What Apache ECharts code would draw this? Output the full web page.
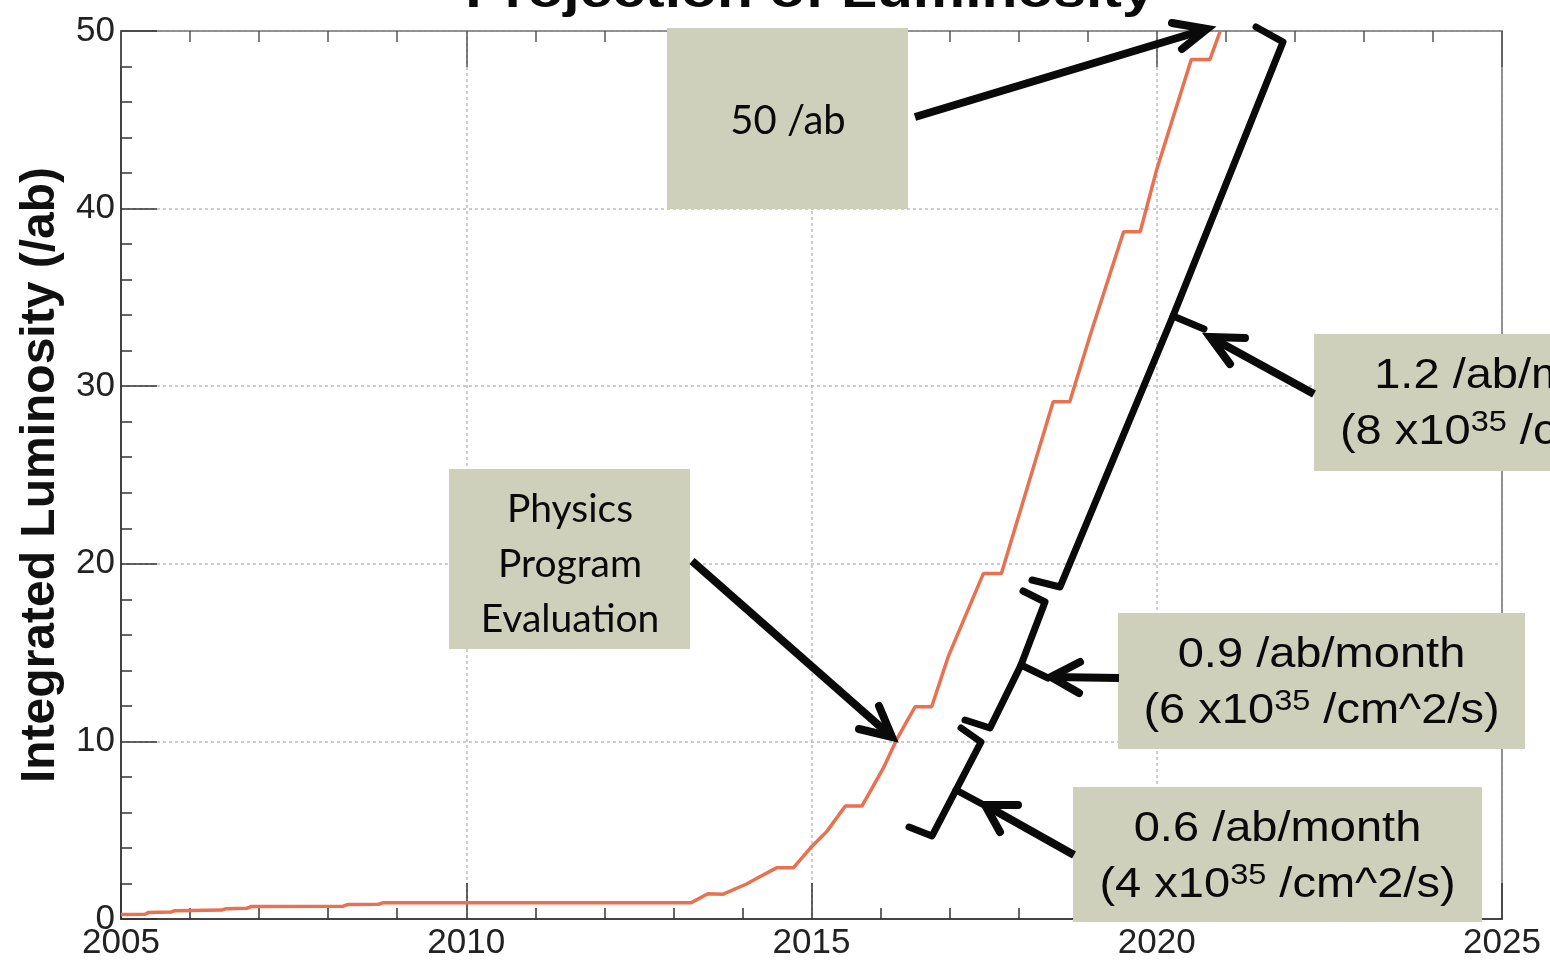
<!DOCTYPE html>
<html>
<head>
<meta charset="utf-8">
<script src="https://cdn.jsdelivr.net/npm/echarts@6/dist/echarts.min.js"></script>
<style>
html,body{margin:0;padding:0;background:#ffffff;}
#chart{width:1550px;height:970px;}
</style>
</head>
<body>
<div id="chart"></div>
<script>
// ---------------- data ----------------
const chartTitle = 'Projection of Luminosity';
const yAxisTitle = 'Integrated Luminosity (/ab)';
const yearTicks = [2005, 2010, 2015, 2020, 2025];
const lumiTicks = [0, 10, 20, 30, 40, 50];

// integrated luminosity (/ab) vs. year
const years = [2005.00, 2005.35, 2005.40, 2005.73, 2005.78, 2006.46, 2006.52, 2006.82, 2006.88,
  2008.22, 2008.28, 2008.73, 2008.80, 2013.26, 2013.50, 2013.72, 2014.06, 2014.25, 2014.50,
  2014.74, 2014.98, 2015.22, 2015.49, 2015.73, 2016.04, 2016.23, 2016.50, 2016.74, 2016.98,
  2017.49, 2017.75, 2018.50, 2018.74, 2019.03, 2019.52, 2019.76, 2020.00, 2020.50, 2020.77, 2020.92];
const lumi = [0.25, 0.27, 0.37, 0.40, 0.47, 0.50, 0.58, 0.60, 0.70,
  0.72, 0.81, 0.83, 0.92, 0.92, 1.42, 1.40, 1.97, 2.38, 2.89,
  2.89, 3.98, 4.92, 6.36, 6.36, 8.49, 10.08, 11.95, 11.95, 14.77,
  19.46, 19.46, 29.13, 29.13, 32.80, 38.70, 38.70, 42.20, 48.40, 48.40, 50.00];

// annotation texts
const noteGoal = '50 /ab';
const notePhysics = ['Physics', 'Program', 'Evaluation'];
const noteRates = [
  ['1.2 /ab/month', '(8 x10', '35', ' /cm^2/s)'],
  ['0.9 /ab/month', '(6 x10', '35', ' /cm^2/s)'],
  ['0.6 /ab/month', '(4 x10', '35', ' /cm^2/s)']
];

// ---------------- chart ----------------
const chart = echarts.init(document.getElementById('chart'), null, {renderer: 'canvas'});
const seriesData = years.map((y, i) => [y, lumi[i]]);

const BOX = '#CED0BC';
const INK = '#0a0a0a';
const SANS = 'Liberation Sans, Arial, sans-serif';
const HUMAN = 'Lato, Open Sans, sans-serif';
const tickLabel = {fontSize: 35, color: '#222', fontFamily: SANS};
const grid = {lineStyle: {color: '#bdbdbd', type: [3, 3], width: 1.5}};

function rect(x1, y1, x2, y2) {
  return {type: 'rect', z: 100, shape: {x: x1, y: y1, width: x2 - x1, height: y2 - y1}, style: {fill: BOX}};
}
function poly(points, w) {
  return {type: 'polyline', z: 102, shape: {points: points},
    style: {stroke: INK, lineWidth: w, fill: null, lineJoin: 'round', lineCap: 'round'}};
}
function arrow(from, tip, w1, w2) {
  return [
    {type: 'polyline', z: 102, shape: {points: [from, tip]}, style: {stroke: INK, lineWidth: 8, fill: null, lineCap: 'butt'}},
    {type: 'polyline', z: 102, shape: {points: [w1, tip, w2]}, style: {stroke: INK, lineWidth: 8, fill: null, lineJoin: 'miter', miterLimit: 6, lineCap: 'round'}}
  ];
}
function txt(x, y, text, font, size, weight, sx) {
  return {type: 'text', z: 103, x: x, y: y, scaleX: sx || 1,
    style: {text: text, fontSize: size, fontFamily: font, fontWeight: weight || 'normal', fill: INK,
      align: 'center', textAlign: 'center', verticalAlign: 'middle', textVerticalAlign: 'middle'}};
}
function supTxt(x, y, parts, sx) {
  return {type: 'text', z: 103, x: x, y: y, scaleX: sx,
    style: {text: '{m|' + parts[1] + '}{s|' + parts[2] + '}{m|' + parts[3] + '}',
      fill: INK, align: 'center', textAlign: 'center', verticalAlign: 'middle', textVerticalAlign: 'middle',
      rich: {
        m: {fontSize: 42, fontFamily: SANS, fill: INK, color: INK, lineHeight: 48},
        s: {fontSize: 29, fontFamily: SANS, fill: INK, color: INK, lineHeight: 20, verticalAlign: 'top'}
      }}};
}

const rateBoxes = [
  {x1: 1314, y1: 334, x2: 1722, y2: 471},
  {x1: 1118, y1: 613, x2: 1525, y2: 749},
  {x1: 1073, y1: 787, x2: 1482, y2: 922}
];

const graphics = [];
// title (cut off at the top)
graphics.push(txt(810, -7, chartTitle, SANS, 49, 'bold', 1.2));
// 50 /ab
graphics.push(rect(667, 28, 908, 209));
graphics.push(txt(788, 121, noteGoal, HUMAN, 40));
graphics.push(...arrow([915, 117], [1207, 29], [1172, 23], [1182, 49]));
// Physics program evaluation
graphics.push(rect(449, 469, 690, 649));
notePhysics.forEach((t, i) => graphics.push(txt(570, 509 + i * 55, t, HUMAN, 39)));
graphics.push(...arrow([692, 561], [892, 737], [879, 706], [859, 729]));
// brackets
graphics.push(poly([[1032, 580], [1060, 587], [1173, 316], [1283, 42], [1256, 27]], 7));
graphics.push(poly([[1173, 316], [1204, 329]], 7));
graphics.push(poly([[965, 720], [990, 728], [1021, 665], [1045, 602], [1023, 591]], 7));
graphics.push(poly([[1021, 665], [1048, 678]], 7));
graphics.push(poly([[909, 827], [932, 836], [956, 790], [981, 742], [961, 728]], 7));
graphics.push(poly([[956, 790], [982, 804]], 7));
// rate boxes
rateBoxes.forEach((b, i) => {
  graphics.push(rect(b.x1, b.y1, b.x2, b.y2));
  const cx = (b.x1 + b.x2) / 2;
  graphics.push(txt(cx, b.y1 + 42, noteRates[i][0], SANS, 42, 'normal', 1.12));
  graphics.push(supTxt(cx, b.y1 + 98, noteRates[i], 1.12));
});
graphics.push(...arrow([1314, 394], [1210, 337], [1245, 338], [1230, 364]));
graphics.push(...arrow([1119, 678], [1051, 677], [1080, 662], [1079, 693]));
graphics.push(...arrow([1074, 855], [985, 805], [1018, 805], [1000, 832]));

const xMin = yearTicks[0], xMax = yearTicks[yearTicks.length - 1], xStep = yearTicks[1] - yearTicks[0];
const yMin = lumiTicks[0], yMax = lumiTicks[lumiTicks.length - 1], yStep = lumiTicks[1] - lumiTicks[0];

const option = {
  animation: false,
  backgroundColor: '#ffffff',
  grid: {left: 121, right: 48, top: 31, bottom: 51, containLabel: false, outerBoundsMode: 'none',
    show: true, borderColor: '#888', borderWidth: 1.5, backgroundColor: 'transparent'},
  xAxis: [
    {type: 'value', min: xMin, max: xMax, interval: xStep, position: 'bottom',
      axisLine: {show: true, onZero: false, lineStyle: {color: '#444', width: 2}},
      axisTick: {show: true, inside: true, length: 36, lineStyle: {color: '#333', width: 1.5}},
      minorTick: {show: true, splitNumber: 5, length: 11, lineStyle: {color: '#333', width: 1.5}},
      axisLabel: Object.assign({margin: 7, formatter: v => String(v)}, tickLabel),
      splitLine: Object.assign({show: true}, grid), minorSplitLine: {show: false}},
    {type: 'value', min: xMin, max: xMax, interval: xStep, position: 'top',
      axisLine: {show: true, onZero: false, lineStyle: {color: '#888', width: 1.5}},
      axisTick: {show: true, inside: true, length: 36, lineStyle: {color: '#555', width: 1.5}},
      minorTick: {show: true, splitNumber: 5, length: 11, lineStyle: {color: '#555', width: 1.5}},
      axisLabel: {show: false}, splitLine: {show: false}}
  ],
  yAxis: [
    {type: 'value', min: yMin, max: yMax, interval: yStep, position: 'left',
      axisLine: {show: true, onZero: false, lineStyle: {color: '#444', width: 2}},
      axisTick: {show: true, inside: true, length: 36, lineStyle: {color: '#333', width: 1.5}},
      minorTick: {show: true, splitNumber: 5, length: 11, lineStyle: {color: '#333', width: 1.5}},
      axisLabel: Object.assign({margin: 6}, tickLabel),
      splitLine: Object.assign({show: true}, grid), minorSplitLine: {show: false},
      name: yAxisTitle, nameLocation: 'middle', nameGap: 48, nameRotate: 90,
      nameTextStyle: {fontSize: 48, fontWeight: 'bold', color: '#111', fontFamily: SANS}},
    {type: 'value', min: yMin, max: yMax, interval: yStep, position: 'right',
      axisLine: {show: true, onZero: false, lineStyle: {color: '#888', width: 1.5}},
      axisTick: {show: false}, axisLabel: {show: false}, splitLine: {show: false}}
  ],
  series: [{
    type: 'line', xAxisIndex: 0, yAxisIndex: 0, data: seriesData,
    showSymbol: false, symbol: 'none', smooth: false, clip: true, z: 5,
    lineStyle: {color: '#E9714F', width: 3.5}
  }],
  graphic: {elements: graphics}
};
chart.setOption(option);
</script>
</body>
</html>
